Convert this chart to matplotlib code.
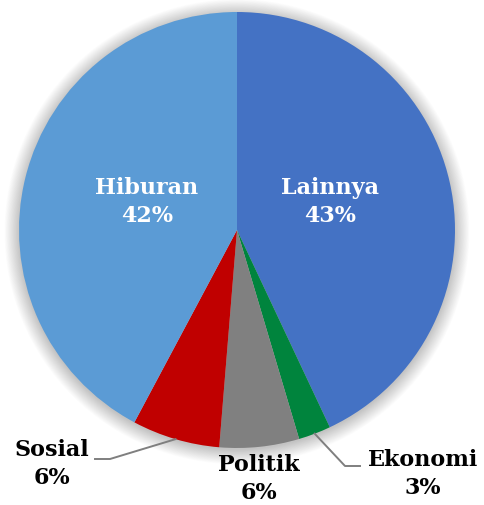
import matplotlib.pyplot as plt
import numpy as np

categories = ["Lainnya", "Ekonomi", "Politik", "Sosial", "Hiburan"]
shares = [43.0, 2.4, 5.9, 6.5, 42.2]
pct_labels = ["43%", "3%", "6%", "6%", "42%"]
colors = ["#4472C4", "#00843D", "#808080", "#C00000", "#5B9BD5"]

W, H = 485, 505
cx, cy, R = 237, 230, 218

fig = plt.figure(figsize=(W / 100, H / 100), dpi=100)
ax = fig.add_axes([(cx - R) / W, (H - cy - R) / H, 2 * R / W, 2 * R / H])
ax.axis("off")

# soft glow-like shadow around the pie
for k in range(20):
    r = 1.0 + 0.0035 * k
    ax.add_patch(plt.Circle((0, -0.008), r, color="black", alpha=0.012,
                            lw=0, zorder=0, clip_on=False))

wedges, _ = ax.pie(shares, colors=colors, startangle=90, counterclock=False,
                   radius=1, wedgeprops=dict(linewidth=0),
                   frame=False)
ax.set_xlim(-1, 1)
ax.set_ylim(-1, 1)
ax.set_aspect("equal")

font = dict(family=["DejaVu Serif"], fontweight="bold",
            fontsize=16, ha="center", va="center", linespacing=1.4)

def px(x, y):
    return ((x - cx) / R, (cy - y) / R)

# inside labels
for i, pos in [(0, (330, 202)), (4, (147, 202))]:
    ax.text(*px(*pos), categories[i] + "\n" + pct_labels[i], color="white", **font)

# Politik, outside with no leader
ax.text(*px(259, 479), categories[2] + "\n" + pct_labels[2], color="black",
        **font, clip_on=False)

# labels with leader lines
def edge_point(i):
    start = sum(shares[:i])
    mid = (start + shares[i] / 2) / 100 * 2 * np.pi
    return np.sin(mid), np.cos(mid)

for i, knee, end, txt in [(3, (110, 459), (95, 459), (52, 464)),
                          (1, (345, 466), (360, 466), (423, 474))]:
    ex, ey = edge_point(i)
    kx, ky = px(*knee)
    tx, ty = px(*end)
    ax.plot([ex, kx, tx], [ey, ky, ty], color="#7F7F7F", lw=1.4,
            clip_on=False, zorder=3)
    ax.text(*px(*txt), categories[i] + "\n" + pct_labels[i], color="black",
            **font, clip_on=False)

fig.savefig("out.png", dpi=100)
